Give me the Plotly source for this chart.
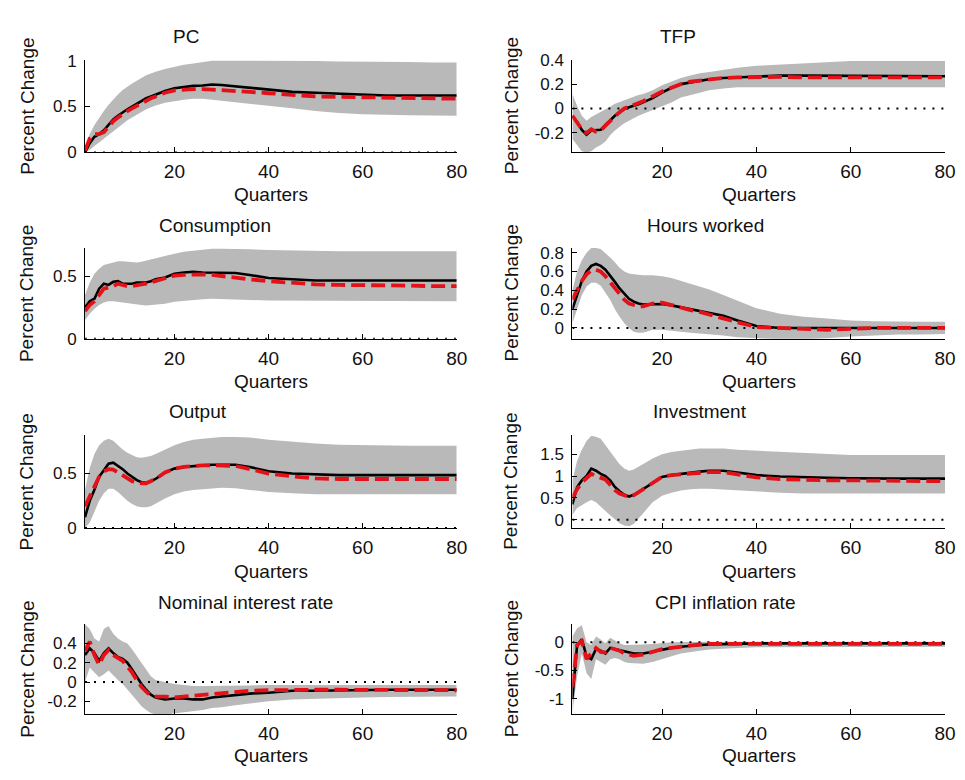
import plotly.graph_objects as go

# Impulse responses over 80 quarters: median response (solid), mean response (dashed)
# and the lower / upper bounds of the probability band.
quarters = [1, 2, 3, 4, 5, 6, 7, 8, 9, 10, 11, 12, 13, 14, 15, 16, 18, 20, 22, 24,
            26, 28, 30, 33, 36, 40, 45, 50, 55, 60, 65, 70, 75, 80]

pc_line = [0.0, 0.1, 0.17, 0.2, 0.24, 0.3, 0.36, 0.4, 0.44, 0.47, 0.5, 0.53, 0.56, 0.59, 0.61, 0.63, 0.67,
           0.70, 0.715, 0.725, 0.73, 0.74, 0.735, 0.72, 0.70, 0.68, 0.66, 0.65, 0.64, 0.625, 0.62, 0.62, 0.62, 0.62]
pc_dash = [0.02, 0.15, 0.2, 0.2, 0.22, 0.28, 0.34, 0.38, 0.42, 0.45, 0.48, 0.51, 0.54, 0.57, 0.59, 0.61, 0.65,
           0.675, 0.685, 0.69, 0.69, 0.685, 0.68, 0.67, 0.66, 0.645, 0.625, 0.61, 0.605, 0.60, 0.595, 0.59, 0.585, 0.585]
pc_hi = [0.05, 0.2, 0.3, 0.38, 0.45, 0.52, 0.58, 0.63, 0.68, 0.72, 0.75, 0.78, 0.81, 0.84, 0.86, 0.88, 0.91,
         0.935, 0.955, 0.97, 0.985, 1.0, 1.0, 1.0, 1.0, 1.0, 1.0, 0.995, 0.99, 0.99, 0.985, 0.985, 0.98, 0.98]
pc_lo = [0.0, 0.03, 0.07, 0.1, 0.14, 0.18, 0.22, 0.27, 0.31, 0.35, 0.38, 0.41, 0.44, 0.47, 0.49, 0.51, 0.54,
         0.56, 0.575, 0.585, 0.585, 0.575, 0.565, 0.55, 0.535, 0.51, 0.48, 0.45, 0.43, 0.415, 0.41, 0.405, 0.40, 0.40]

tfp_line = [-0.06, -0.11, -0.175, -0.215, -0.18, -0.18, -0.175, -0.135, -0.095, -0.06, -0.03, -0.005, 0.01, 0.02,
            0.035, 0.05, 0.085, 0.13, 0.17, 0.2, 0.215, 0.23, 0.24, 0.25, 0.255, 0.265, 0.27, 0.27, 0.27, 0.27,
            0.27, 0.27, 0.27, 0.265]
tfp_dash = [-0.06, -0.12, -0.17, -0.2, -0.17, -0.19, -0.18, -0.14, -0.1, -0.06, -0.03, 0.0, 0.015, 0.03,
            0.045, 0.06, 0.1, 0.14, 0.17, 0.2, 0.22, 0.23, 0.24, 0.25, 0.255, 0.26, 0.26, 0.255, 0.255, 0.255,
            0.255, 0.255, 0.255, 0.255]
tfp_hi = [0.12, 0.02, -0.06, -0.1, -0.07, -0.05, -0.03, -0.01, 0.015, 0.04, 0.055, 0.07, 0.085, 0.1, 0.11, 0.12,
          0.15, 0.19, 0.22, 0.25, 0.27, 0.29, 0.3, 0.32, 0.335, 0.35, 0.36, 0.37, 0.38, 0.39, 0.39, 0.39, 0.39, 0.39]
tfp_lo = [-0.25, -0.3, -0.35, -0.36, -0.35, -0.32, -0.3, -0.27, -0.22, -0.18, -0.15, -0.12, -0.1, -0.08, -0.06,
          -0.04, -0.01, 0.02, 0.05, 0.09, 0.11, 0.13, 0.15, 0.165, 0.175, 0.18, 0.18, 0.175, 0.175, 0.175, 0.175,
          0.175, 0.175, 0.175]

cons_line = [0.25, 0.30, 0.32, 0.40, 0.44, 0.43, 0.455, 0.46, 0.44, 0.44, 0.44, 0.45, 0.45, 0.45, 0.46, 0.475,
             0.49, 0.52, 0.53, 0.535, 0.53, 0.53, 0.53, 0.525, 0.51, 0.485, 0.475, 0.465, 0.465, 0.465, 0.465,
             0.465, 0.465, 0.465]
cons_dash = [0.22, 0.27, 0.3, 0.35, 0.4, 0.41, 0.42, 0.44, 0.43, 0.42, 0.42, 0.43, 0.435, 0.44, 0.45, 0.46,
             0.48, 0.505, 0.51, 0.515, 0.515, 0.51, 0.5, 0.49, 0.475, 0.46, 0.445, 0.435, 0.43, 0.43, 0.43,
             0.425, 0.42, 0.42]
cons_hi = [0.35, 0.45, 0.52, 0.56, 0.59, 0.6, 0.61, 0.62, 0.62, 0.615, 0.61, 0.61, 0.615, 0.625, 0.635, 0.645,
           0.665, 0.68, 0.695, 0.705, 0.715, 0.72, 0.72, 0.72, 0.715, 0.71, 0.705, 0.70, 0.70, 0.70, 0.70, 0.70,
           0.70, 0.70]
cons_lo = [0.15, 0.2, 0.24, 0.27, 0.29, 0.3, 0.3, 0.3, 0.295, 0.29, 0.28, 0.275, 0.27, 0.265, 0.265, 0.27,
           0.28, 0.295, 0.305, 0.31, 0.315, 0.32, 0.32, 0.315, 0.31, 0.305, 0.30, 0.30, 0.30, 0.30, 0.30, 0.30,
           0.30, 0.30]

hours_line = [0.2, 0.35, 0.5, 0.6, 0.66, 0.68, 0.66, 0.62, 0.56, 0.49, 0.42, 0.36, 0.31, 0.28, 0.26, 0.25,
              0.25, 0.255, 0.24, 0.22, 0.2, 0.18, 0.16, 0.13, 0.08, 0.02, 0.0, 0.0, 0.0, 0.0, 0.0, 0.0, 0.0, 0.0]
hours_dash = [0.3, 0.4, 0.5, 0.57, 0.61, 0.62, 0.6, 0.55, 0.49, 0.42, 0.36, 0.3, 0.26, 0.24, 0.23, 0.23,
              0.26, 0.27, 0.24, 0.21, 0.19, 0.17, 0.14, 0.1, 0.06, 0.01, -0.005, -0.01, -0.02, -0.005, 0.0,
              0.0, 0.0, 0.0]
hours_hi = [0.4, 0.6, 0.72, 0.8, 0.85, 0.85, 0.84, 0.8, 0.75, 0.7, 0.64, 0.6, 0.58, 0.57, 0.565, 0.56, 0.56,
            0.55, 0.53, 0.5, 0.47, 0.44, 0.41, 0.35, 0.29, 0.21, 0.15, 0.12, 0.10, 0.08, 0.07, 0.065, 0.065, 0.065]
hours_lo = [0.05, 0.2, 0.35, 0.44, 0.48, 0.48, 0.45, 0.38, 0.3, 0.2, 0.12, 0.05, 0.0, -0.04, -0.05, -0.05,
            -0.02, -0.02, -0.03, -0.04, -0.05, -0.06, -0.07, -0.08, -0.1, -0.11, -0.12, -0.12, -0.11, -0.09,
            -0.08, -0.07, -0.07, -0.065]

out_line = [0.1, 0.25, 0.35, 0.47, 0.53, 0.59, 0.6, 0.57, 0.54, 0.5, 0.47, 0.44, 0.42, 0.415, 0.43, 0.45,
            0.51, 0.545, 0.56, 0.57, 0.575, 0.58, 0.58, 0.58, 0.56, 0.52, 0.50, 0.49, 0.485, 0.485, 0.485,
            0.485, 0.485, 0.485]
out_dash = [0.2, 0.3, 0.38, 0.47, 0.52, 0.54, 0.535, 0.51, 0.48, 0.455, 0.43, 0.42, 0.41, 0.41, 0.43, 0.45,
            0.51, 0.545, 0.56, 0.57, 0.575, 0.575, 0.575, 0.57, 0.54, 0.5, 0.475, 0.455, 0.45, 0.45, 0.45,
            0.45, 0.45, 0.45]
out_hi = [0.35, 0.55, 0.68, 0.76, 0.8, 0.82, 0.8, 0.76, 0.72, 0.69, 0.67, 0.65, 0.645, 0.65, 0.66, 0.68,
          0.72, 0.76, 0.79, 0.81, 0.82, 0.83, 0.835, 0.835, 0.83, 0.81, 0.79, 0.775, 0.765, 0.76, 0.755,
          0.755, 0.755, 0.755]
out_lo = [0.0, 0.05, 0.15, 0.25, 0.32, 0.36, 0.36, 0.33, 0.29, 0.25, 0.22, 0.2, 0.19, 0.19, 0.2, 0.22, 0.27,
          0.31, 0.335, 0.35, 0.36, 0.365, 0.37, 0.365, 0.35, 0.33, 0.32, 0.31, 0.31, 0.31, 0.31, 0.31, 0.31, 0.31]

inv_line = [0.35, 0.75, 0.9, 1.0, 1.17, 1.12, 1.05, 1.0, 0.9, 0.75, 0.65, 0.57, 0.53, 0.57, 0.63, 0.7, 0.85,
            0.98, 1.02, 1.05, 1.07, 1.1, 1.12, 1.12, 1.08, 1.02, 0.99, 0.97, 0.96, 0.95, 0.94, 0.94, 0.94, 0.94]
inv_dash = [0.5, 0.7, 0.85, 0.95, 1.05, 1.0, 0.97, 0.92, 0.8, 0.68, 0.6, 0.55, 0.52, 0.56, 0.63, 0.7, 0.86,
            0.98, 1.02, 1.04, 1.06, 1.08, 1.09, 1.09, 1.04, 0.97, 0.93, 0.91, 0.9, 0.9, 0.9, 0.9, 0.89, 0.88]
inv_hi = [0.9, 1.35, 1.6, 1.8, 1.92, 1.9, 1.85, 1.7, 1.55, 1.4, 1.27, 1.17, 1.12, 1.15, 1.21, 1.28, 1.4, 1.5,
          1.55, 1.58, 1.61, 1.63, 1.63, 1.63, 1.6, 1.58, 1.55, 1.52, 1.5, 1.48, 1.48, 1.48, 1.48, 1.48]
inv_lo = [0.1, 0.27, 0.33, 0.4, 0.45, 0.4, 0.3, 0.2, 0.1, 0.0, -0.08, -0.13, -0.15, -0.1, 0.02, 0.15, 0.4,
          0.55, 0.62, 0.67, 0.7, 0.71, 0.71, 0.7, 0.68, 0.65, 0.62, 0.6, 0.6, 0.6, 0.6, 0.6, 0.6, 0.6]

rate_line = [0.28, 0.35, 0.3, 0.22, 0.3, 0.35, 0.3, 0.26, 0.24, 0.2, 0.13, 0.05, -0.02, -0.08, -0.13, -0.16,
             -0.18, -0.17, -0.17, -0.18, -0.18, -0.16, -0.15, -0.13, -0.12, -0.11, -0.09, -0.09, -0.085,
             -0.085, -0.08, -0.08, -0.08, -0.08]
rate_dash = [0.32, 0.42, 0.28, 0.18, 0.28, 0.33, 0.28, 0.25, 0.22, 0.16, 0.1, 0.02, -0.05, -0.1, -0.14, -0.15,
             -0.15, -0.16, -0.15, -0.14, -0.13, -0.12, -0.11, -0.1, -0.09, -0.085, -0.08, -0.08, -0.08, -0.08,
             -0.08, -0.08, -0.08, -0.085]
rate_hi = [0.6, 0.55, 0.45, 0.42, 0.55, 0.58, 0.5, 0.45, 0.42, 0.4, 0.34, 0.27, 0.2, 0.12, 0.06, 0.02, 0.0,
           -0.02, -0.03, -0.04, -0.04, -0.04, -0.04, -0.04, -0.035, -0.03, -0.03, -0.03, -0.03, -0.03, -0.03,
           -0.03, -0.03, -0.03]
rate_lo = [0.0, 0.15, 0.1, 0.05, 0.08, 0.12, 0.07, 0.02, -0.02, -0.07, -0.13, -0.19, -0.25, -0.29, -0.32,
           -0.335, -0.335, -0.32, -0.31, -0.3, -0.29, -0.27, -0.26, -0.24, -0.22, -0.2, -0.18, -0.17, -0.165,
           -0.16, -0.155, -0.15, -0.15, -0.15]

cpi_line = [-1.0, -0.05, 0.05, -0.25, -0.3, -0.12, -0.15, -0.2, -0.1, -0.12, -0.15, -0.17, -0.19, -0.2, -0.2,
            -0.2, -0.17, -0.13, -0.1, -0.08, -0.06, -0.05, -0.04, -0.03, -0.025, -0.02, -0.02, -0.02, -0.02,
            -0.02, -0.02, -0.02, -0.02, -0.02]
cpi_dash = [-0.8, -0.05, 0.02, -0.3, -0.2, -0.1, -0.17, -0.18, -0.1, -0.12, -0.15, -0.2, -0.22, -0.24, -0.23,
            -0.22, -0.17, -0.12, -0.1, -0.08, -0.05, -0.04, -0.03, -0.03, -0.025, -0.03, -0.03, -0.03, -0.03,
            -0.03, -0.03, -0.03, -0.03, -0.03]
cpi_hi = [0.1, 0.25, 0.3, 0.0, -0.05, 0.1, 0.05, -0.02, 0.08, 0.03, -0.02, -0.05, -0.05, -0.05, -0.045, -0.04,
          -0.03, -0.01, 0.0, 0.005, 0.01, 0.01, 0.01, 0.01, 0.01, 0.01, 0.01, 0.01, 0.01, 0.01, 0.01, 0.01,
          0.01, 0.01]
cpi_lo = [-1.25, -0.6, -0.2, -0.55, -0.65, -0.3, -0.35, -0.4, -0.3, -0.28, -0.3, -0.35, -0.37, -0.38, -0.38,
          -0.38, -0.35, -0.3, -0.25, -0.2, -0.17, -0.15, -0.13, -0.11, -0.1, -0.09, -0.08, -0.08, -0.08, -0.08,
          -0.08, -0.08, -0.08, -0.08]

titles = ["PC", "TFP", "Consumption", "Hours worked", "Output", "Investment",
          "Nominal interest rate", "CPI inflation rate"]
x_ticks = [20, 40, 60, 80]
y_ticks = [
    [0, 0.5, 1],
    [-0.2, 0, 0.2, 0.4],
    [0, 0.5],
    [0, 0.2, 0.4, 0.6, 0.8],
    [0, 0.5],
    [0, 0.5, 1, 1.5],
    [-0.2, 0, 0.2, 0.4],
    [-1, -0.5, 0],
]
y_ranges = [
    [0, 1.01], [-0.36, 0.4], [0, 0.725], [-0.115, 0.85],
    [0, 0.85], [-0.19, 1.93], [-0.335, 0.605], [-1.28, 0.33],
]

panels = [
    (pc_line, pc_dash, pc_lo, pc_hi),
    (tfp_line, tfp_dash, tfp_lo, tfp_hi),
    (cons_line, cons_dash, cons_lo, cons_hi),
    (hours_line, hours_dash, hours_lo, hours_hi),
    (out_line, out_dash, out_lo, out_hi),
    (inv_line, inv_dash, inv_lo, inv_hi),
    (rate_line, rate_dash, rate_lo, rate_hi),
    (cpi_line, cpi_dash, cpi_lo, cpi_hi),
]

W, H = 965, 780
FONT = "Liberation Sans, Arial, sans-serif"
FS = 19
FS_Y = 17
BAND = "#b9b9b9"
RED = "rgb(228,18,24)"
TXT = "#111"

# pixel layout of the 4x2 grid
col_px = [(86, 462), (579, 956)]
row_px = [(52, 147), (245, 338), (437, 532), (630, 723)]
title_px = [(188, 28), (686, 28), (217, 222), (714, 222), (200, 413), (708, 413), (248, 608), (733, 608)]
ylab_x_px = [27, 517]
xlab_y_px = [190, 382, 577, 765]


def px_x(v):
    return v / W


def px_y(v):
    return 1 - v / H


fig = go.Figure()
annotations = []

for i, (line, dash, lo, hi) in enumerate(panels):
    r, c = divmod(i, 2)
    n = i + 1
    xa = "x" if n == 1 else f"x{n}"
    ya = "y" if n == 1 else f"y{n}"

    # probability band
    fig.add_trace(go.Scatter(
        x=quarters + quarters[::-1], y=hi + lo[::-1],
        fill="toself", fillcolor=BAND, mode="lines", line=dict(width=0, color=BAND),
        hoverinfo="skip", showlegend=False, xaxis=xa, yaxis=ya))
    # zero reference line
    fig.add_trace(go.Scatter(
        x=[quarters[0], quarters[-1]], y=[0, 0], mode="lines",
        line=dict(color="black", width=2, dash="2px,7px"),
        hoverinfo="skip", showlegend=False, xaxis=xa, yaxis=ya))
    fig.add_trace(go.Scatter(
        x=quarters, y=line, mode="lines", line=dict(color="black", width=2.6),
        showlegend=False, xaxis=xa, yaxis=ya))
    fig.add_trace(go.Scatter(
        x=quarters, y=dash, mode="lines", line=dict(color=RED, width=3.8, dash="14px,6px"),
        showlegend=False, xaxis=xa, yaxis=ya))

    x0, x1 = col_px[c]
    top, bot = row_px[r]
    axis_common = dict(
        showline=True, linecolor="black", linewidth=1,
        ticks="inside", ticklen=5, tickwidth=1, tickcolor="black",
        showgrid=False, zeroline=False,
    )
    fig.update_layout(**{
        ("xaxis" if n == 1 else f"xaxis{n}"): dict(
            axis_common, domain=[px_x(x0), px_x(x1)], range=[1, 80],
            tickvals=x_ticks, ticktext=[str(t) for t in x_ticks],
            tickfont=dict(family=FONT, size=FS, color=TXT),
            anchor=ya, ticklabelstandoff=2),
        ("yaxis" if n == 1 else f"yaxis{n}"): dict(
            axis_common, domain=[px_y(bot), px_y(top)], range=y_ranges[i],
            tickvals=y_ticks[i], ticktext=["%g" % t for t in y_ticks[i]],
            tickfont=dict(family=FONT, size=FS_Y, color=TXT),
            anchor=xa, ticklabelstandoff=4),
    })

    tx, ty = title_px[i]
    annotations.append(dict(text=titles[i], x=px_x(tx), y=px_y(ty), xref="paper", yref="paper",
                            xanchor="center", yanchor="middle", showarrow=False,
                            font=dict(family=FONT, size=FS, color=TXT)))
    annotations.append(dict(text="Quarters", x=px_x((x0 + x1) / 2), y=px_y(xlab_y_px[r]),
                            xref="paper", yref="paper", xanchor="center", yanchor="middle",
                            showarrow=False, font=dict(family=FONT, size=FS, color=TXT)))
    annotations.append(dict(text="Percent Change", x=px_x(ylab_x_px[c]), y=px_y((top + bot) / 2),
                            xref="paper", yref="paper", xanchor="center", yanchor="middle",
                            textangle=-90, showarrow=False,
                            font=dict(family=FONT, size=FS, color=TXT)))

fig.update_layout(
    width=W, height=H,
    margin=dict(l=0, r=0, t=0, b=0),
    paper_bgcolor="white", plot_bgcolor="white",
    annotations=annotations,
    showlegend=False,
)

fig.write_html("out.html")
